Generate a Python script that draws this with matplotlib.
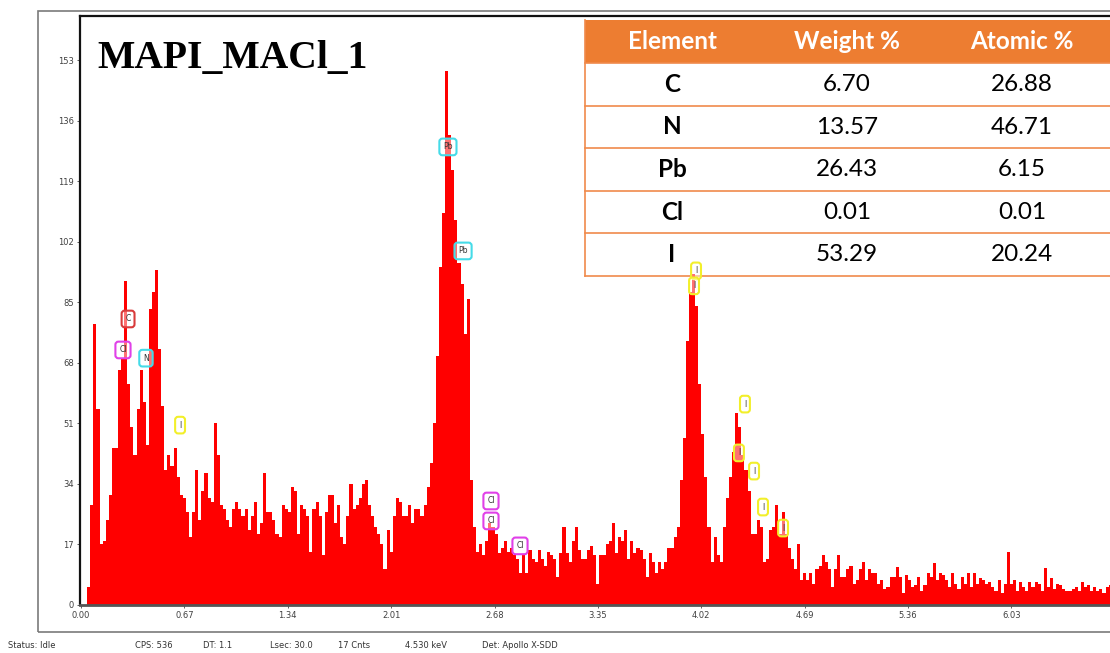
import numpy as np
import matplotlib
matplotlib.use('Agg')
import matplotlib.pyplot as plt
from matplotlib.patches import Rectangle

# spectrum, 0.02 keV per bin, counts
BIN_KEV = 0.02
COUNTS = [
    0, 0, 5, 28, 79, 55, 17, 18, 24, 31,
    44, 44, 66, 69, 91, 62, 50, 42, 55, 66,
    57, 45, 83, 88, 94, 72, 56, 38, 42, 39,
    44, 36, 31, 30, 26, 19, 26, 38, 24, 32,
    37, 30, 29, 51, 42, 28, 27, 24, 22, 27,
    29, 27, 25, 27, 21, 25, 29, 20, 23, 37,
    26, 26, 24, 20, 19, 28, 27, 26, 33, 32,
    20, 28, 27, 25, 15, 27, 29, 25, 14, 26,
    31, 31, 23, 28, 19, 17, 25, 34, 27, 28,
    30, 34, 35, 28, 25, 22, 20, 17, 10, 21,
    15, 25, 30, 29, 25, 25, 28, 23, 27, 27,
    25, 28, 33, 40, 51, 70, 95, 110, 150, 132,
    122, 108, 96, 90, 76, 86, 35, 22, 15, 17,
    14, 18, 23, 22, 20, 14.5, 16, 18, 15, 16,
    14, 13, 9, 14, 9, 15.5, 13, 12, 15.5, 13,
    11, 15, 14, 13, 8, 14.5, 22, 14.5, 12, 18,
    22, 15.5, 13, 13, 15.5, 16.5, 14, 6, 14, 14,
    17, 18, 23, 14.5, 19, 18, 21, 13, 18, 14.5,
    16, 15.5, 13, 8, 14.5, 12, 9, 12, 10, 12,
    16, 16, 19, 22, 35, 47, 74, 88, 93, 84,
    62, 48, 36, 22, 12, 19, 14, 12, 22, 30,
    36, 43, 54, 50, 42, 38, 32, 20, 20, 24,
    22, 12, 13, 21, 22, 28, 20, 26, 20, 16,
    13, 10, 17, 7, 9, 7, 9, 6, 10, 11,
    14, 12, 10, 5, 10, 14, 8, 8, 10, 11,
    6, 7, 10, 12, 7, 10, 9, 9, 6, 7,
    4.5, 5, 8, 8, 10.7, 8, 3.5, 8.4, 7, 5,
    5.5, 8, 4, 5.5, 9, 8, 11.7, 7, 9, 8.5,
    7, 5, 9, 6, 4.5, 8, 6, 9, 5, 9,
    6, 7.5, 7, 6, 6.5, 5, 4, 7, 3.5, 6,
    15, 6, 7, 4, 6.5, 5, 4, 6.5, 5, 6.5,
    6, 4, 10.5, 5, 7.5, 4.5, 6, 5.5, 4.5, 4,
    4, 4.5, 5, 4, 6.5, 5, 5.5, 4, 5, 4,
    4.5, 3.5, 5, 5.5,
]

X_TICKS = [0.00, 0.67, 1.34, 2.01, 2.68, 3.35, 4.02, 4.69, 5.36, 6.03]
Y_TICKS = [0, 17, 34, 51, 68, 85, 102, 119, 136, 153]

# element markers on the spectrum
MARK_LABELS = ['C', 'Cl', 'N', 'I', 'Pb', 'Pb', 'Cl', 'Cl', 'Cl',
               'I', 'I', 'I', 'I', 'I', 'I', 'I']
MARK_KEV = [0.305, 0.272, 0.421, 0.642, 2.378, 2.476, 2.657, 2.657, 2.845,
            3.986, 3.973, 4.303, 4.264, 4.362, 4.420, 4.550]
MARK_Y = [80.3, 71.6, 69.3, 50.5, 128.6, 99.4, 29.2, 23.6, 16.6,
          93.8, 89.6, 56.4, 42.7, 37.6, 27.5, 21.6]
MARK_COLORS = {'C': '#d83a3a', 'Cl': '#e040e8', 'N': '#45dbe8',
               'Pb': '#45dbe8', 'I': '#f2ef2a'}

# composition table
ELEMENTS = ['C', 'N', 'Pb', 'Cl', 'I']
WEIGHT = ['6.70', '13.57', '26.43', '0.01', '53.29']
ATOMIC = ['26.88', '46.71', '6.15', '0.01', '20.24']
HEADERS = ['Element', 'Weight %', 'Atomic %']

STATUS = [('Status: Idle', 8), ('CPS: 536', 135), ('DT: 1.1', 203),
          ('Lsec: 30.0', 270), ('17 Cnts', 338), ('4.530 keV', 405),
          ('Det: Apollo X-SDD', 482)]

W, H = 1110, 653
PX_PER_KEV = 154.3
PX_PER_CNT = 3.562


def fx(px):
    return px / W


def fy(py):
    return 1 - py / H


fig = plt.figure(figsize=(W / 100, H / 100), dpi=100)

# outer grey frame
fig.patches.append(Rectangle((fx(38), fy(632)), fx(1125) - fx(38), fy(11) - fy(632),
                             transform=fig.transFigure, fill=False,
                             edgecolor='#7a7a7a', linewidth=1.2))

x_lo, x_hi = -0.0065, 6.8
y_hi = (605 - 16) / PX_PER_CNT
ax = fig.add_axes([fx(80), fy(605), (x_hi - x_lo) * PX_PER_KEV / W, (605 - 16) / H])
ax.set_facecolor('none')

edges = np.arange(len(COUNTS) + 1) * BIN_KEV
ax.stairs(COUNTS, edges, fill=True, color='#ff0000', linewidth=0)

ax.set_xlim(x_lo, x_hi)
ax.set_ylim(0, y_hi)
ax.set_xticks(X_TICKS)
ax.set_xticklabels(['%.2f' % t for t in X_TICKS])
ax.set_yticks(Y_TICKS)
ax.tick_params(axis='both', labelsize=6, labelcolor='#404040', color='#606060',
               length=2.5, width=0.7, direction='out', pad=2)
for side in ['left', 'top']:
    ax.spines[side].set_linewidth(1.6)
    ax.spines[side].set_color('#111111')
ax.spines['bottom'].set_linewidth(2.0)
ax.spines['bottom'].set_color('#555555')

for lab, e, y in zip(MARK_LABELS, MARK_KEV, MARK_Y):
    ax.text(e, y, lab, fontsize=5.5, color='#333333', ha='center', va='center',
            bbox=dict(boxstyle='round,pad=0.5,rounding_size=0.4',
                      fc=(1, 1, 1, 0.45), ec=MARK_COLORS[lab], lw=1.5),
            zorder=5)

fig.text(fx(97), fy(68), 'MAPI_MACl_1', family='Liberation Serif',
         weight='bold', fontsize=28.5, va='baseline', ha='left')

# table (drawn below the axes so the peak markers stay on top)
tab_left, tab_right = 585, 1130
row_lines = [20, 63, 106, 148, 191, 233, 276]
col_x = [672, 847, 1022]
orange = '#ed7d31'
fig.patches.append(Rectangle((fx(tab_left), fy(row_lines[1])),
                             fx(tab_right) - fx(tab_left),
                             fy(row_lines[0]) - fy(row_lines[1]),
                             transform=fig.transFigure, facecolor=orange,
                             edgecolor='none', zorder=-2))
for yl in row_lines[1:]:
    fig.add_artist(plt.Line2D([fx(tab_left), fx(tab_right)], [fy(yl), fy(yl)],
                              color='#f08a4b', lw=1.2, zorder=-1))
fig.add_artist(plt.Line2D([fx(tab_left), fx(tab_left)], [fy(row_lines[0]), fy(row_lines[-1])],
                          color='#f08a4b', lw=1.2, zorder=-1))

fs = 17.5
for hdr, cx in zip(HEADERS, col_x):
    fig.text(fx(cx), fy((row_lines[0] + row_lines[1]) / 2), hdr, family='Lato',
             weight='bold', fontsize=fs, color='white', ha='center', va='center', zorder=-1)
for r, (el, wt, at) in enumerate(zip(ELEMENTS, WEIGHT, ATOMIC)):
    yc = fy((row_lines[r + 1] + row_lines[r + 2]) / 2)
    fig.text(fx(col_x[0]), yc, el, family='Lato', weight='bold', fontsize=fs,
             color='black', ha='center', va='center', zorder=-1)
    fig.text(fx(col_x[1]), yc, wt, family='Lato', fontsize=fs,
             color='black', ha='center', va='center', zorder=-1)
    fig.text(fx(col_x[2]), yc, at, family='Lato', fontsize=fs,
             color='black', ha='center', va='center', zorder=-1)

for txt, px in STATUS:
    fig.text(fx(px), fy(645), txt, fontsize=6, color='#333333', ha='left', va='center')

fig.savefig('out.png', dpi=100)
